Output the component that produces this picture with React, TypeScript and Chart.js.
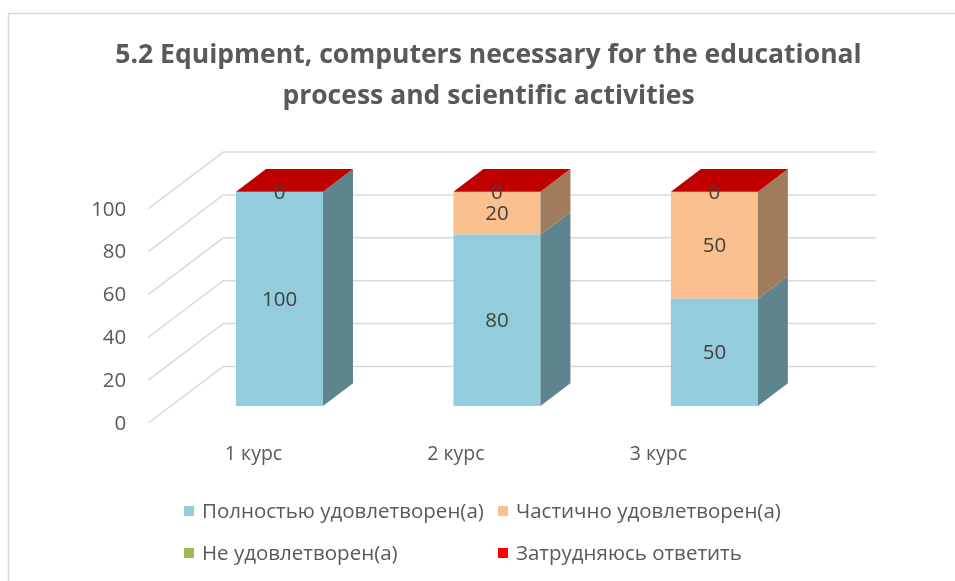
import React, { useEffect, useRef } from "react";
import { Chart, registerables } from "chart.js";

Chart.register(...registerables);

// ---------- data ----------
const categories = ["1 курс", "2 курс", "3 курс"];
const fullySatisfied = [100, 80, 50];
const partiallySatisfied = [0, 20, 50];
const notSatisfied = [0, 0, 0];
const hardToSay = [0, 0, 0];
const seriesNames = [
  "Полностью удовлетворен(а)",
  "Частично удовлетворен(а)",
  "Не удовлетворен(а)",
  "Затрудняюсь ответить",
];
const yTicks = [0, 20, 40, 60, 80, 100];
const titleLines = [
  "5.2 Equipment, computers necessary for the educational",
  "process and scientific activities",
];

// ---------- styles ----------
const FRONT_COLORS = ["#93CDDD", "#FAC090", "#9BBB59", "#FF0000"];
const SIDE_COLORS = ["#5E848E", "#A07B5C", "#6A823C", "#B00000"];
const TOP_COLORS = ["#A9D8E6", "#FCD0AC", "#B5CF7E", "#C00000"];
const FONT = '"Open Sans", "Noto Sans", sans-serif';
const TEXT = "#595959";
const LABEL = "#404040";
const GRID = "#D9D9D9";
// 3D depth vector of the floor and the bar's position inside that depth
const DX = 75;
const DY = -56.6;
const D0 = 0.3;
const D1 = 0.7;
const PERSP = 0.931;
const PERSP_C = -6.7;

const threeD = {
  id: "threeD",
  beforeDatasetsDraw(chart: any) {
    const { ctx, chartArea, scales } = chart;
    const y = scales.y;
    ctx.save();
    // outer border
    ctx.strokeStyle = GRID;
    ctx.lineWidth = 1.5;
    ctx.strokeRect(8.5, 13.5, 1000, 1000);
    // walls grid
    ctx.strokeStyle = GRID;
    ctx.lineWidth = 1.5;
    ctx.font = `20.5px ${FONT}`;
    ctx.fillStyle = TEXT;
    ctx.textAlign = "right";
    ctx.textBaseline = "middle";
    yTicks.forEach((v) => {
      const yy = y.getPixelForValue(v);
      const fx = chartArea.left - D0 * DX;
      const fy = yy - D0 * DY;
      const bx = chartArea.left + (1 - D0) * DX;
      const by = yy + (1 - D0) * DY;
      const ex = chartArea.right + (1 - D0) * DX;
      ctx.beginPath();
      ctx.moveTo(fx, fy);
      ctx.lineTo(bx, by);
      ctx.lineTo(ex, by);
      ctx.stroke();
      ctx.fillText(String(v), fx - 22, fy + 1);
    });
    // category labels
    ctx.font = `19.5px ${FONT}`;
    ctx.textAlign = "center";
    const x = scales.x;
    categories.forEach((c, i) => {
      const bx = x.getPixelForValue(i);
      ctx.fillText(c, bx * PERSP + PERSP_C, chartArea.bottom + 48);
    });
    ctx.restore();
  },
  afterDatasetsDraw(chart: any) {
    const { ctx } = chart;
    const n = chart.data.datasets.length;
    const sx = (D1 - D0) * DX;
    const sy = (D1 - D0) * DY;
    ctx.save();
    // side faces
    for (let d = 0; d < n; d++) {
      const meta = chart.getDatasetMeta(d);
      meta.data.forEach((el: any) => {
        const h = Math.abs(el.base - el.y);
        if (h < 0.5) return;
        const xr = el.x + el.width / 2;
        ctx.fillStyle = SIDE_COLORS[d];
        ctx.beginPath();
        ctx.moveTo(xr, el.y);
        ctx.lineTo(xr + sx, el.y + sy);
        ctx.lineTo(xr + sx, el.base + sy);
        ctx.lineTo(xr, el.base);
        ctx.closePath();
        ctx.fill();
      });
    }
    // top faces (topmost series of each stack)
    categories.forEach((_, i) => {
      let top = -1;
      for (let d = 0; d < n; d++) {
        if (chart.data.datasets[d].data[i] != null) top = d;
      }
      if (top < 0) return;
      const el: any = chart.getDatasetMeta(top).data[i];
      const xl = el.x - el.width / 2;
      const xr = el.x + el.width / 2;
      ctx.fillStyle = TOP_COLORS[top];
      ctx.beginPath();
      ctx.moveTo(xl, el.y);
      ctx.lineTo(xr, el.y);
      ctx.lineTo(xr + sx, el.y + sy);
      ctx.lineTo(xl + sx, el.y + sy);
      ctx.closePath();
      ctx.fill();
    });
    // data labels
    ctx.font = `20.5px ${FONT}`;
    ctx.fillStyle = LABEL;
    ctx.textAlign = "center";
    ctx.textBaseline = "middle";
    const seen = new Set<string>();
    for (let d = 0; d < n; d++) {
      const meta = chart.getDatasetMeta(d);
      meta.data.forEach((el: any, i: number) => {
        const v = chart.data.datasets[d].data[i];
        if (v == null) return;
        const cy = (el.y + el.base) / 2;
        const key = `${Math.round(el.x)}_${Math.round(cy)}_${v}`;
        if (seen.has(key)) return;
        seen.add(key);
        ctx.fillText(String(v), el.x, cy + 1);
      });
    }
    ctx.restore();
  },
  afterDraw(chart: any) {
    const { ctx } = chart;
    ctx.save();
    // title
    ctx.fillStyle = TEXT;
    ctx.textAlign = "center";
    ctx.textBaseline = "middle";
    let fs = 27;
    ctx.font = `bold ${fs}px ${FONT}`;
    const w = ctx.measureText(titleLines[0]).width;
    fs = fs * (747 / w);
    ctx.font = `bold ${fs}px ${FONT}`;
    ctx.fillText(titleLines[0], 488.5, 55);
    ctx.fillText(titleLines[1], 488.5, 96);
    // legend
    ctx.font = `20.5px ${FONT}`;
    ctx.textAlign = "left";
    const cols = [184, 498];
    const rows = [511, 553];
    chart.data.datasets.forEach((ds: any, d: number) => {
      const cx = cols[d % 2];
      const cy = rows[Math.floor(d / 2)];
      ctx.fillStyle = ds.backgroundColor;
      ctx.fillRect(cx, cy - 5, 10, 10);
      ctx.fillStyle = TEXT;
      ctx.fillText(ds.label, cx + 18, cy + 1);
    });
    ctx.restore();
  },
};

export default function App() {
  const ref = useRef<HTMLCanvasElement>(null);
  useEffect(() => {
    if (!ref.current) return;
    const series = [fullySatisfied, partiallySatisfied, notSatisfied, hardToSay];
    const chart = new Chart(ref.current, {
      type: "bar",
      data: {
        labels: categories,
        datasets: series.map((data, d) => ({
          label: seriesNames[d],
          data,
          backgroundColor: FRONT_COLORS[d],
          borderWidth: 0,
          categoryPercentage: 1,
          barPercentage: 0.4,
          stack: "s",
        })),
      },
      options: {
        animation: false,
        responsive: false,
        devicePixelRatio: 1,
        layout: { padding: { left: 170.8, right: 131.9, top: 191.7, bottom: 175 } },
        plugins: { legend: { display: false }, title: { display: false }, tooltip: { enabled: false } },
        scales: {
          x: { stacked: true, display: false },
          y: { stacked: true, display: false, min: 0, max: 100 },
        },
      },
      plugins: [threeD],
    });
    return () => chart.destroy();
  }, []);
  return (
    <div style={{ position: "absolute", left: 0, top: 0, width: 955, height: 581, background: "#fff" }}>
      <canvas ref={ref} width={955} height={581} />
    </div>
  );
}
